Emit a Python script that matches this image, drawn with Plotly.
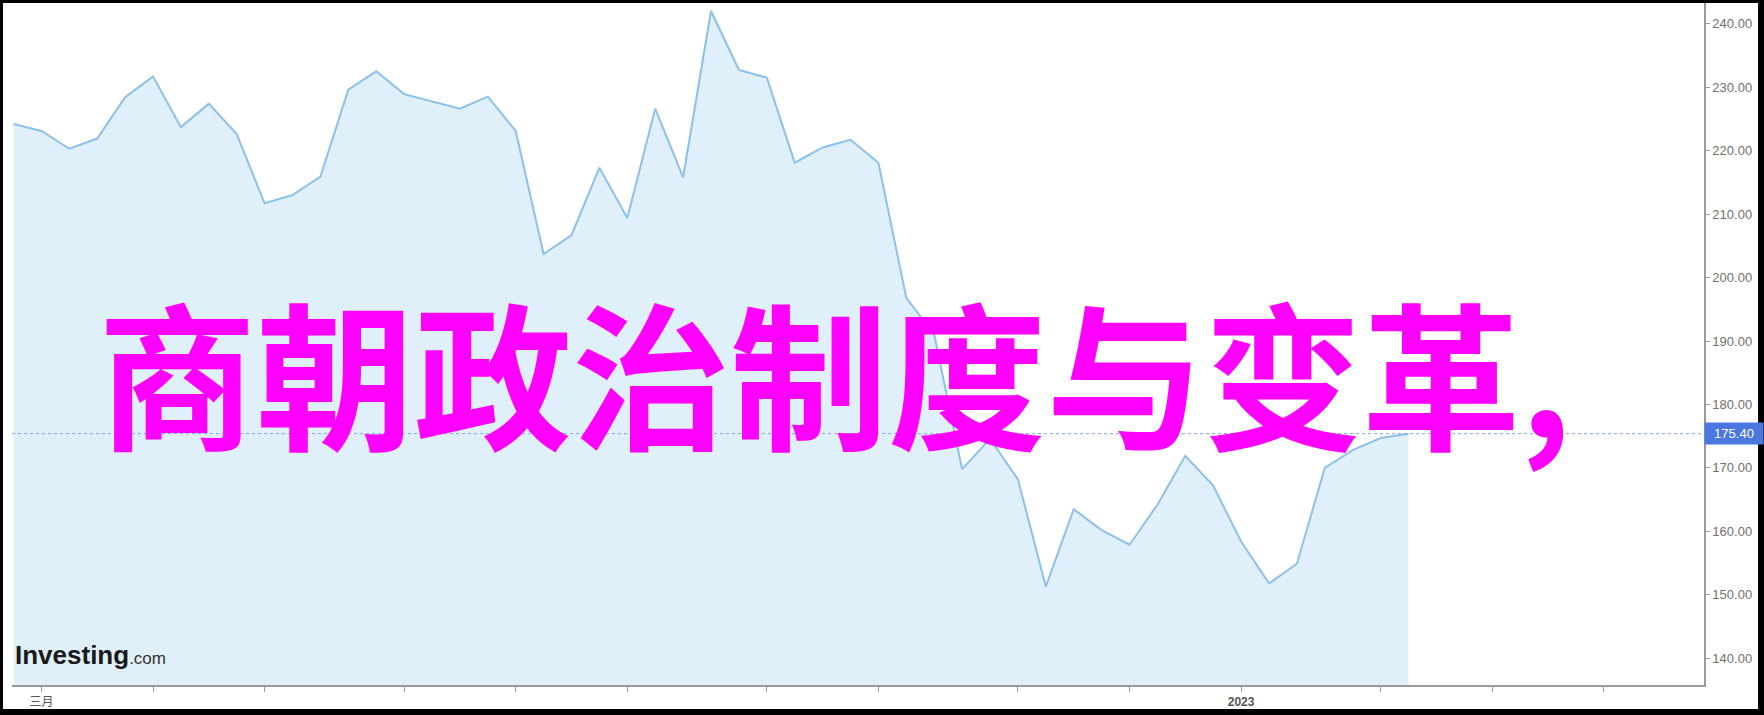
import plotly.graph_objects as go

# ---- data (weekly closes, index-based x axis) ----
values = [224.2, 223.1, 220.3, 221.9, 228.4, 231.7, 223.7, 227.4, 222.6, 211.7,
          213.0, 215.9, 229.6, 232.5, 228.9, 227.8, 226.6, 228.5, 223.1, 203.7,
          206.7, 217.3, 209.4, 226.6, 215.8, 242.0, 232.7, 231.5, 218.1, 220.5,
          221.7, 218.1, 196.8, 191.0, 169.8, 174.6, 168.2, 151.3, 163.5, 160.2,
          157.9, 164.2, 171.9, 167.2, 158.4, 151.8, 154.9, 170.0, 172.8, 174.7,
          175.4]
week_index = list(range(len(values)))
x_tick_positions = [1, 5, 9, 14, 18, 22, 27, 31, 36, 40, 44, 49, 53, 57]
x_tick_labels = ["三月", "", "", "", "", "", "", "", "", "", "<b>2023</b>", "", "", ""]
y_tick_values = [140, 150, 160, 170, 180, 190, 200, 210, 220, 230, 240]
title_text = "商朝政治制度与变革,"
last_value = values[-1]

W, H = 1764, 715
L, R = 12, 1704      # plot area px
T, B = 3, 685

fig = go.Figure()
fig.add_trace(go.Scatter(
    x=week_index, y=values, mode="lines",
    line=dict(color="#8ec0ec", width=2),
    fill="tozeroy", fillcolor="#e0f0fa",
    hoverinfo="skip", showlegend=False,
))

fig.update_layout(
    width=W, height=H, autosize=False,
    margin=dict(l=0, r=0, t=0, b=0, pad=0),
    paper_bgcolor="white", plot_bgcolor="white",
    showlegend=False,
    xaxis=dict(
        domain=[L / W, R / W],
        range=[-0.054, -0.054 + (R - L) / 27.9],
        tickmode="array", tickvals=x_tick_positions, ticktext=x_tick_labels,
        ticks="outside", ticklen=5, tickcolor="#9a9a9a", tickwidth=1,
        showline=True, linecolor="#9a9a9a", linewidth=1.5,
        showgrid=False, zeroline=False, automargin=False,
        tickfont=dict(family="Liberation Sans, Noto Sans CJK SC", size=12, color="#555555"),
    ),
    yaxis=dict(
        domain=[1 - B / H, 1 - T / H],
        range=[240 - (B - 23.7) / 6.346, 240 + (23.7 - T) / 6.346],
        side="right",
        tickmode="array", tickvals=y_tick_values, tickformat=".2f",
        ticks="outside", ticklen=4, tickcolor="#9a9a9a", tickwidth=1,
        showline=True, linecolor="#9a9a9a", linewidth=1.5,
        showgrid=False, zeroline=False, automargin=False,
        tickfont=dict(family="Liberation Sans, Arial", size=13, color="#707070"),
    ),
)

# dotted last-price line and price badge
fig.add_shape(type="line", xref="paper", yref="y",
              x0=L / W, x1=R / W, y0=last_value, y1=last_value,
              line=dict(color="#7aa6f2", width=1, dash="dot"))
fig.add_annotation(xref="paper", yref="y", x=R / W, y=last_value,
                   xanchor="left", yanchor="middle", showarrow=False,
                   text=f"{last_value:.2f}", bgcolor="#4a78e0",
                   borderpad=3, xshift=0,
                   font=dict(family="Liberation Sans, Arial", size=13, color="white"),
                   width=52, align="center")

# Investing.com logo
fig.add_annotation(xref="paper", yref="paper", x=13 / W, y=1 - 655 / H,
                   xanchor="left", yanchor="middle", showarrow=False,
                   text="<b>Investing</b><span style='font-size:17px;color:#333'>.com</span>",
                   font=dict(family="Liberation Sans, Arial", size=26, color="#1a1a1a"))

# big overlay title
fig.add_annotation(xref="paper", yref="paper", x=834 / W, y=1 - 369 / H,
                   xanchor="center", yanchor="middle", showarrow=False,
                   text=title_text,
                   font=dict(family="Noto Sans CJK SC", size=158, color="#ff00ff", weight="bold"))

# black frame around the image
for (x0, x1, y0, y1) in [(0, 3, 0, H), (W - 6, W, 0, H), (0, W, 0, 3), (0, W, H - 6, H)]:
    fig.add_shape(type="rect", xref="paper", yref="paper",
                  x0=x0 / W, x1=x1 / W, y0=1 - y1 / H, y1=1 - y0 / H,
                  line=dict(width=0), fillcolor="black", layer="above")

fig.write_html("out.html",
               config={"displayModeBar": False},
               post_script="document.body.style.margin='0';document.body.style.overflow='hidden';")
